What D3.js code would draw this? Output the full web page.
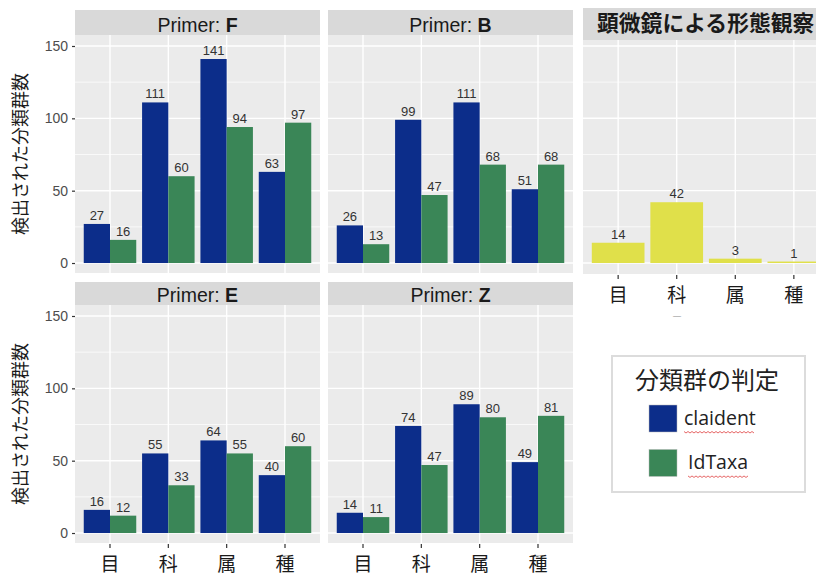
<!DOCTYPE html>
<html>
<head>
<meta charset="utf-8">
<script src="https://cdn.jsdelivr.net/npm/d3@7"></script>
<style>
	body { margin: 0; background: #fff; }
	svg { display: block; }
</style>
</head>
<body>
<div id="chart"></div>
<script>
var categories = ["目", "科", "属", "種"]
var series = ["claident", "IdTaxa"]
var primers = ["F", "B", "E", "Z"]
// one row per primer, same order as primers
var claidentCounts = [[27, 111, 141, 63], [26, 99, 111, 51], [16, 55, 64, 40], [14, 74, 89, 49]]
var idtaxaCounts = [[16, 60, 94, 97], [13, 47, 68, 68], [12, 33, 55, 60], [11, 47, 80, 81]]
var microscopeCounts = [14, 42, 3, 1]
var yTicks = [0, 50, 100, 150]
var yMinor = [25, 75, 125]
var microscopeTitle = "顕微鏡による形態観察"
var yTitle = "検出された分類群数"
var legendTitle = "分類群の判定"

var colors = { claident: "#0c2d8a", IdTaxa: "#3a8657" }
var yellow = "#e0e04a"
var jp = "'Noto Sans CJK JP', sans-serif"
var latin = "'Liberation Sans', Arial, sans-serif"

var width = 816, height = 575
var svg = d3.select("#chart").append("svg")
	.attr("width", width)
	.attr("height", height)

var colX = [75, 328]
var rowTop = [35, 305]
var panelW = 245, panelH = 238
var stripH = [25, 23]

function panel(x0, top, w, h, yDomain) {
	var x = d3.scaleBand().domain(categories)
		.range([x0, x0 + w]).paddingInner(0.1).paddingOuter(0.15)
	var y = d3.scaleLinear().domain(yDomain).range([top + h, top])
	svg.append("rect")
		.attr("x", x0).attr("y", top).attr("width", w).attr("height", h)
		.attr("fill", "#ebebeb")
	var g = svg.append("g")
	g.selectAll("line.minor").data(yMinor).enter().append("line")
		.attr("x1", x0).attr("x2", x0 + w)
		.attr("y1", function(d) { return y(d) }).attr("y2", function(d) { return y(d) })
		.attr("stroke", "#fff").attr("stroke-width", 0.7)
	g.selectAll("line.major").data(yTicks).enter().append("line")
		.attr("x1", x0).attr("x2", x0 + w)
		.attr("y1", function(d) { return y(d) }).attr("y2", function(d) { return y(d) })
		.attr("stroke", "#fff").attr("stroke-width", 1.4)
	g.selectAll("line.vert").data(categories).enter().append("line")
		.attr("x1", function(d) { return x(d) + x.bandwidth() / 2 })
		.attr("x2", function(d) { return x(d) + x.bandwidth() / 2 })
		.attr("y1", top).attr("y2", top + h)
		.attr("stroke", "#fff").attr("stroke-width", 1.4)
	return { x: x, y: y }
}

function xAxis(s, y0) {
	var ax = svg.append("g")
		.attr("transform", "translate(0," + y0 + ")")
		.call(d3.axisBottom(s).tickSize(4).tickPadding(10))
	ax.select(".domain").remove()
	ax.selectAll("line").attr("stroke", "#333").attr("stroke-width", 1.2)
	ax.selectAll("text").attr("font-family", jp).attr("font-size", 19).attr("fill", "#1a1a1a")
}

function yAxis(s, x0) {
	var ax = svg.append("g")
		.attr("transform", "translate(" + x0 + ",0)")
		.call(d3.axisLeft(s).tickValues(yTicks).tickSize(3).tickPadding(4))
	ax.select(".domain").remove()
	ax.selectAll("line").attr("stroke", "#333").attr("stroke-width", 1.2)
	ax.selectAll("text").attr("font-family", latin).attr("font-size", 14).attr("fill", "#4d4d4d")
}

primers.forEach(function(p, i) {
	var col = i % 2, row = Math.floor(i / 2)
	var x0 = colX[col], top = rowTop[row]
	var sc = panel(x0, top, panelW, panelH, [-6.9, 157.6])
	var xs = d3.scaleBand().domain(series).range([0, sc.x.bandwidth()])

	// strip
	svg.append("rect")
		.attr("x", x0).attr("y", top - stripH[row]).attr("width", panelW).attr("height", stripH[row])
		.attr("fill", "#d9d9d9")
	var st = svg.append("text")
		.attr("x", x0 + panelW / 2).attr("y", top - 3)
		.attr("text-anchor", "middle")
		.attr("font-family", latin).attr("font-size", 19.5).attr("fill", "#1a1a1a")
	st.append("tspan").text("Primer: ")
	st.append("tspan").attr("font-weight", "bold").text(p)

	var rows = []
	categories.forEach(function(c, j) {
		rows.push({ cat: c, s: "claident", v: claidentCounts[i][j] })
		rows.push({ cat: c, s: "IdTaxa", v: idtaxaCounts[i][j] })
	})
	svg.append("g").selectAll("rect").data(rows).enter().append("rect")
		.attr("x", function(d) { return sc.x(d.cat) + xs(d.s) })
		.attr("y", function(d) { return sc.y(d.v) })
		.attr("width", xs.bandwidth())
		.attr("height", function(d) { return sc.y(0) - sc.y(d.v) })
		.attr("fill", function(d) { return colors[d.s] })
	svg.append("g").selectAll("text").data(rows).enter().append("text")
		.attr("x", function(d) { return sc.x(d.cat) + xs(d.s) + xs.bandwidth() / 2 })
		.attr("y", function(d) { return sc.y(d.v) - 4 })
		.attr("text-anchor", "middle")
		.attr("font-family", latin).attr("font-size", 13).attr("fill", "#333")
		.text(function(d) { return d.v })

	if (col == 0) yAxis(sc.y, x0)
	if (row == 1) xAxis(sc.x, top + panelH + 1)
})

// microscope panel (cut off at right edge)
var mx0 = 583, mtop = 40, mw = 246, mh = 234
var msc = panel(mx0, mtop, mw, mh, [-7.6, 154.1])
svg.append("rect")
	.attr("x", mx0).attr("y", 8).attr("width", mw).attr("height", mtop - 8)
	.attr("fill", "#d9d9d9")
svg.append("text")
	.attr("x", 597).attr("y", 31)
	.attr("font-family", jp).attr("font-weight", "bold").attr("font-size", 21.8).attr("fill", "#1a1a1a")
	.text(microscopeTitle)
svg.append("g").selectAll("rect").data(microscopeCounts).enter().append("rect")
	.attr("x", function(d, j) { return msc.x(categories[j]) })
	.attr("y", function(d) { return msc.y(d) })
	.attr("width", msc.x.bandwidth())
	.attr("height", function(d) { return msc.y(0) - msc.y(d) })
	.attr("fill", yellow)
svg.append("g").selectAll("text").data(microscopeCounts).enter().append("text")
	.attr("x", function(d, j) { return msc.x(categories[j]) + msc.x.bandwidth() / 2 })
	.attr("y", function(d) { return msc.y(d) - 4 })
	.attr("text-anchor", "middle")
	.attr("font-family", latin).attr("font-size", 13).attr("fill", "#333")
	.text(function(d) { return d })
xAxis(msc.x, mtop + mh + 1)
svg.append("text")
	.attr("x", 677).attr("y", 318).attr("text-anchor", "middle")
	.attr("font-family", latin).attr("font-size", 8).attr("fill", "#888")
	.text("—")

// y titles
rowTop.forEach(function(t) {
	svg.append("text")
		.attr("transform", "translate(19," + (t + panelH / 2) + ") rotate(-90)")
		.attr("text-anchor", "middle").attr("dominant-baseline", "central")
		.attr("font-family", jp).attr("font-size", 18).attr("fill", "#1a1a1a")
		.text(yTitle)
})

// legend
var lg = svg.append("g")
lg.append("rect")
	.attr("x", 612).attr("y", 356).attr("width", 193).attr("height", 136)
	.attr("fill", "#fff").attr("stroke", "#dcdcdc").attr("stroke-width", 2)
lg.append("text")
	.attr("x", 707).attr("y", 389).attr("text-anchor", "middle")
	.attr("font-family", jp).attr("font-size", 24).attr("fill", "#222")
	.text(legendTitle)
var keyY = d3.scaleBand().domain(series).range([405, 485]).paddingInner(0.2)
series.forEach(function(s, i) {
	var ky = keyY(s)
	lg.append("rect")
		.attr("x", 649).attr("y", ky).attr("width", 28).attr("height", 27)
		.attr("fill", colors[s]).attr("stroke", "#bbb").attr("stroke-width", 0.5)
	var tx = 684 + i * 4
	var t = lg.append("text")
		.attr("x", tx).attr("y", ky + 20)
		.attr("font-family", "'Open Sans', sans-serif").attr("font-size", 19.5).attr("fill", "#222")
		.text(s)
	var tw = t.node().getComputedTextLength()
	// spell-check squiggle
	var pts = d3.range(0, Math.floor(tw / 2) + 1).map(function(k) {
		return [tx + k * 2, ky + 27 + (k % 2 ? 1 : -0.5)]
	})
	lg.append("path").attr("d", d3.line()(pts))
		.attr("fill", "none").attr("stroke", "#e04040").attr("stroke-width", 0.8)
})
</script>
</body>
</html>
